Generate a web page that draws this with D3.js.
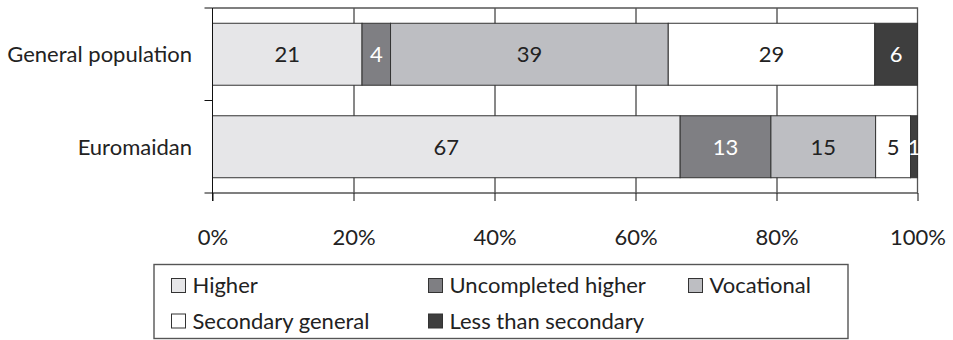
<!DOCTYPE html>
<html>
<head>
<meta charset="utf-8">
<script src="https://cdn.jsdelivr.net/npm/d3@7"></script>
<style>
  body { margin: 0; background: #fff; }
  svg text { font-family: Lato, "Open Sans", sans-serif; font-size: 22px; fill: #222; }
</style>
</head>
<body>
<svg id="chart" width="953" height="340"></svg>
<script>
// Education level of respondents, percent
const groups = ["General population", "Euromaidan"];
const levels = ["Higher", "Uncompleted higher", "Vocational", "Secondary general", "Less than secondary"];
const generalPopulation = [21, 4, 39, 29, 6];
const euromaidan = [67, 13, 15, 5, 1];
const tickLabels = ["0%", "20%", "40%", "60%", "80%", "100%"];

const fills = ["#e6e6e8", "#7f7f83", "#bdbec2", "#ffffff", "#3e3e3e"];
const labelInk = ["#222", "#fff", "#222", "#222", "#fff"];

const rows = [generalPopulation, euromaidan];

const svg = d3.select("#chart");
const plotLeft = 212.5, plotRight = 917.5, plotTop = 8, plotBottom = 193;

const x = d3.scaleLinear().domain([0, 1]).range([plotLeft, plotRight]);
const y = d3.scaleBand().domain(groups).range([plotTop, plotBottom])
  .paddingInner(0.33).paddingOuter(0.165);

// vertical gridlines
svg.append("g")
  .attr("transform", `translate(0,${plotBottom})`)
  .call(d3.axisBottom(x).tickValues([0.2, 0.4, 0.6, 0.8]).tickSize(-(plotBottom - plotTop)).tickFormat(""))
  .call(g => g.select(".domain").remove())
  .call(g => g.selectAll("line").attr("stroke", "#111").attr("stroke-width", 1));

// frame: top, bottom, right
svg.append("path")
  .attr("d", `M${plotLeft},${plotTop}H${plotRight}V${plotBottom}H${plotLeft}`)
  .attr("fill", "none").attr("stroke", "#555").attr("stroke-width", 1.3);

// stacked 100% bars
rows.forEach((vals, r) => {
  const total = d3.sum(vals);
  let acc = 0;
  const segs = vals.map((v, i) => {
    const s = { i, v, x0: acc / total, x1: (acc + v) / total };
    acc += v;
    return s;
  });
  const g = svg.append("g");
  g.selectAll("rect").data(segs).join("rect")
    .attr("x", d => x(d.x0))
    .attr("width", d => x(d.x1) - x(d.x0))
    .attr("y", y(groups[r]))
    .attr("height", y.bandwidth())
    .attr("fill", d => fills[d.i])
    .attr("stroke", "#333")
    .attr("stroke-width", 1);
  g.selectAll("text").data(segs).join("text")
    .attr("x", d => (x(d.x0) + x(d.x1)) / 2)
    .attr("y", y(groups[r]) + y.bandwidth() / 2)
    .attr("dy", "0.36em")
    .attr("text-anchor", "middle")
    .style("fill", d => labelInk[d.i])
    .text(d => d.v);
});

// x axis: ticks below the frame and percent labels
svg.append("g")
  .attr("transform", `translate(0,${plotBottom})`)
  .call(d3.axisBottom(x).tickValues(d3.range(tickLabels.length).map(i => i / (tickLabels.length - 1)))
    .tickSize(8).tickFormat((d, i) => tickLabels[i]))
  .call(g => g.select(".domain").remove())
  .call(g => g.selectAll("line").attr("stroke", "#111"))
  .call(g => g.selectAll("text").attr("y", 44).attr("dy", "0.36em")
    .style("font-family", "Lato, sans-serif").style("font-size", "22px").style("fill", "#222"));

// y axis with ticks at band boundaries
const bounds = [plotTop, (y(groups[0]) + y.bandwidth() + y(groups[1])) / 2, plotBottom];
const yAxis = svg.append("g");
yAxis.append("line").attr("x1", plotLeft).attr("x2", plotLeft).attr("y1", plotTop).attr("y2", plotBottom + 8)
  .attr("stroke", "#111");
yAxis.selectAll("line.tick").data(bounds).join("line").attr("class", "tick")
  .attr("x1", plotLeft - 8).attr("x2", plotLeft).attr("y1", d => d).attr("y2", d => d)
  .attr("stroke", "#111");
yAxis.selectAll("text").data(groups).join("text")
  .attr("x", 192)
  .attr("y", d => y(d) + y.bandwidth() / 2)
  .attr("dy", "0.36em")
  .attr("text-anchor", "end")
  .text(d => d);

// legend
const legend = svg.append("g");
legend.append("rect")
  .attr("x", 154).attr("y", 264.5).attr("width", 694).attr("height", 74)
  .attr("fill", "none").attr("stroke", "#555").attr("stroke-width", 1.4);
const colX = [171.5, 428.5, 688.5];
const rowY = [285.5, 321];
const item = legend.selectAll("g.item").data(levels).join("g").attr("class", "item")
  .attr("transform", (d, i) => `translate(${colX[i % 3]},${rowY[Math.floor(i / 3)]})`);
item.append("rect")
  .attr("x", 0).attr("y", -7).attr("width", 14).attr("height", 14)
  .attr("fill", (d, i) => fills[i]).attr("stroke", "#333").attr("stroke-width", 1);
item.append("text")
  .attr("x", 21).attr("dy", "0.36em")
  .text(d => d);
</script>
</body>
</html>
